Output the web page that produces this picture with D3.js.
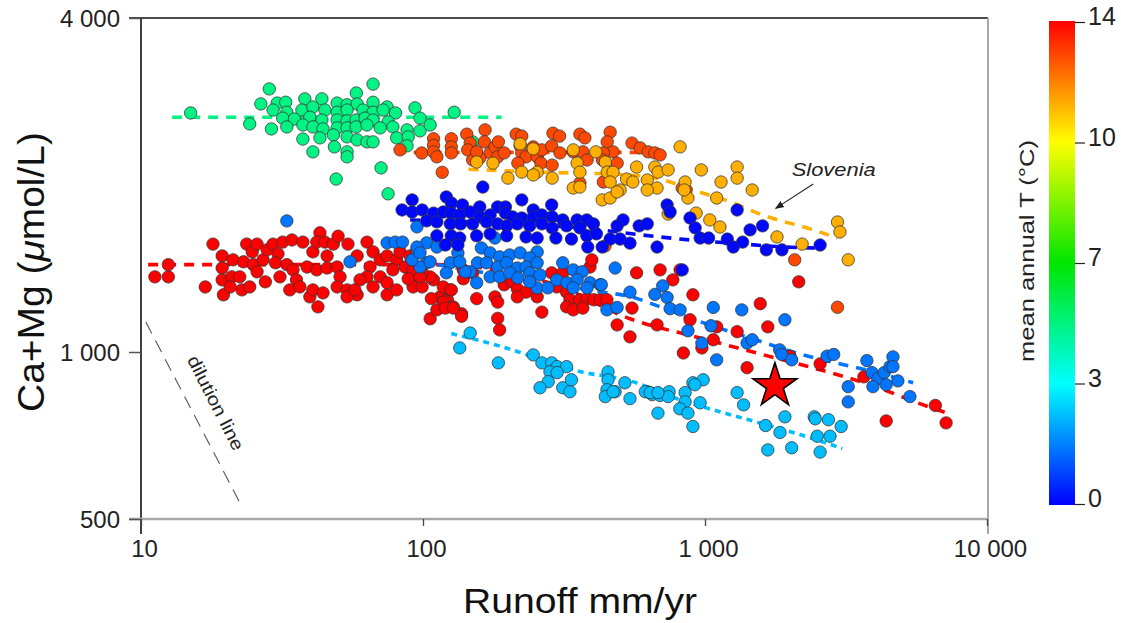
<!DOCTYPE html>
<html><head><meta charset="utf-8">
<script src="https://cdn.jsdelivr.net/npm/d3@7"></script>
<style>body{margin:0;background:#fff;} svg{display:block;font-family:"Liberation Sans",Arial,Helvetica,sans-serif;}</style>
</head><body><svg id="c" width="1121" height="623"></svg>
<script>
// ---------- axes / ticks ----------
const xTicks=[10,100,1000,10000];
const xTickLabels=["10","100","1 000","10 000"];
const yTicks=[500,1000,4000];
const yTickLabels=["500","1 000","4 000"];
const cbTicks=[0,3.5,7,10.5,14];
const cbTickLabels=["0","3","7","10","14"];
const cbStops=[0,3.5,7,10.5,14];
const cbColors=["#0000ff","#00ffff","#00e600","#ffff00","#ff0000"];

// ---------- mean annual T of each group ----------
const groupTemps={green:5.2,orange:13,yellow:11.6,red:14,midblue:1.6,darkblue:0.1,cyan:2.6};

// ---------- data: [runoff mm/yr, Ca+Mg µmol/L] ----------
const greenPts=[[66.5,3040],[58,2930],[28.5,2980],[26.6,2800],[30.4,2810],[32.6,2820],[38.1,2860],[43.8,2860],[49.6,2810],[53.8,2790],[58.4,2800],[66.5,2820],[74.6,2765],[93.7,2755],[29.4,2730],[32.9,2705],[37.2,2730],[40.7,2765],[44.9,2730],[49.6,2705],[53.8,2730],[61.3,2730],[66.5,2705],[72.2,2730],[79.9,2697],[129,2705],[15.0,2697],[31.8,2640],[35.0,2630],[39.7,2650],[43.8,2619],[49.6,2619],[53.8,2610],[57.9,2619],[62.3,2640],[66.5,2619],[75.2,2600],[97.6,2640],[24.3,2577],[29.0,2524],[32.9,2545],[37.5,2566],[40.7,2545],[44.2,2524],[49.6,2535],[53.8,2535],[57.9,2545],[63.3,2566],[70.5,2535],[78.2,2545],[87.8,2514],[97.6,2504],[106,2566],[37.5,2420],[43.1,2432],[48.1,2462],[53.8,2442],[58.4,2412],[63.3,2392],[66.5,2392],[80.6,2432],[88.6,2442],[40.7,2295],[48.5,2343],[53.8,2295],[53.8,2248],[87.8,2353],[71,2147],[49.2,2050],[75.2,1928],[150,2392]];

const orangePts=[[82.9,2314],[99,2284],[109,2423],[109,2357],[109,2295],[112,2248],[117,2108],[126,2423],[126,2343],[126,2285],[143,2470],[147,2380],[144,2314],[150,2219],[166,2514],[165,2392],[173,2285],[180,2343],[184,2248],[159,2238],[155,2295],[185,2392],[194,2285],[214,2470],[224,2450],[221,2353],[224,2285],[232,2248],[217,2190],[246,2343],[254,2248],[264,2314],[262,2190],[289,2480],[305,2450],[286,2353],[306,2285],[287,2172],[360,2470],[375,2432],[341,2295],[369,2295],[382,2219],[461,2490],[450,2392],[472,2295],[436,2285],[433,2219],[488,2190],[461,2100],[436,2025],[551,2380],[589,2333],[629,2295],[664,2285],[693,2266],[360,2017],[830,1975],[857,1959],[442,1552],[2080,1466],[2950,1204]];

const yellowPts=[[155,2200],[177,2190],[221,2372],[246,2324],[224,2110],[254,2110],[246,2085],[200,2058],[287,2058],[341,2314],[352,2190],[360,2110],[341,1975],[360,1983],[410,2295],[443,2200],[450,2110],[472,2110],[461,2025],[500,1959],[432,1880],[461,1895],[488,1943],[527,2050],[572,2155],[555,2025],[624,2042],[664,2155],[682,2110],[740,2129],[676,1975],[624,1959],[816,2343],[850,2025],[870,1895],[844,1959],[740,1773],[970,2129],[930,1780],[1040,1730],[1130,1680],[1100,1895],[1140,2025],[1300,2155],[1300,2058],[1470,1959],[1800,1612],[2210,1565],[2950,1715],[3010,1646],[3220,1466]];

const redPts=[[11.2,1366],[12.5,1366],[12.5,1437],[16.9,1310],[18.0,1565],[19.4,1490],[19.4,1417],[19.4,1349],[19.6,1268],[21.2,1466],[21.0,1366],[22.4,1366],[22.8,1294],[24.3,1310],[20.7,1310],[23.7,1565],[24.8,1515],[25.8,1565],[23.1,1454],[25.0,1437],[27.1,1466],[28.0,1528],[27.6,1338],[25.8,1395],[29.4,1565],[30.6,1503],[31.8,1578],[34.3,1592],[30.0,1448],[32.9,1437],[34.6,1406],[31.1,1366],[35.6,1349],[33.7,1294],[36.6,1310],[39.7,1257],[40.7,1294],[37.5,1578],[40.7,1515],[43.1,1640],[42.0,1578],[44.9,1578],[48.1,1565],[50.0,1617],[45.7,1490],[38.8,1423],[42.0,1406],[45.7,1417],[49.6,1423],[50.8,1366],[42.4,1206],[44.2,1278],[49.6,1310],[53.8,1294],[58.4,1268],[54.2,1565],[58.4,1490],[63.3,1578],[66.5,1515],[64.9,1423],[70.5,1466],[63.3,1366],[59.8,1349],[70.5,1366],[53.8,1257],[57.3,1294],[66.5,1310],[74.6,1268],[80.6,1294],[74.6,1333],[74.6,1490],[80.6,1466],[78.2,1406],[87.8,1423],[92.2,1366],[92.2,1310],[99.3,1310],[109,1349],[115,1257],[122,1242],[106,1148],[128,1206],[137,1172],[125,1294],[106,1366],[99.3,1389],[82.9,1515],[90.0,1490],[86.4,1423],[92.2,1406],[88.6,1355],[97.6,1366],[118,1310],[126,1294],[107,1248],[118,1230],[112,1191],[120,1200],[128,1200],[137,1160],[139,1406],[150,1389],[139,1355],[155,1248],[180,1257],[184,1230],[184,1150],[187,1096],[194,1322],[207,1338],[216,1300],[232,1282],[216,1257],[254,1257],[264,1180],[286,1389],[313,1389],[298,1310],[323,1282],[332,1242],[360,1242],[382,1248],[403,1242],[425,1242],[449,1242],[323,1206],[341,1191],[369,1200],[391,1423],[397,1466],[572,1389],[693,1406],[769,1349],[816,1406],[906,1268],[488,1119],[542,1065],[676,1119],[885,1143],[551,1200],[838,996],[975,1017],[1070,1052],[1100,1110],[1300,1088],[1570,1222],[1670,1110],[1410,937],[2150,1338],[2000,983],[2560,952],[3660,902],[4390,751],[6560,801],[7160,745]];

const midBluePts=[[32.9,1723],[55.1,1454],[74.6,1573],[79.6,1578],[84.6,1578],[95.2,1681],[95.2,1528],[103,1573],[103,1448],[97.6,1423],[95.2,1546],[112,1546],[91.5,1466],[106,1454],[97.6,1509],[125,1448],[133,1509],[132,1573],[121,1389],[155,1333],[156,1448],[147,1395],[161,1540],[173,1509],[187,1484],[203,1496],[221,1509],[254,1515],[239,1478],[168,1448],[184,1423],[198,1448],[216,1417],[232,1423],[254,1448],[173,1366],[187,1366],[203,1389],[217,1360],[239,1389],[260,1377],[254,1305],[277,1305],[239,1338],[313,1448],[341,1406],[367,1395],[298,1349],[324,1333],[352,1349],[391,1333],[425,1322],[341,1305],[382,1305],[180,1605],[141,1395],[135,1454],[480,1417],[429,1322],[542,1282],[449,1191],[488,1203],[664,1270],[708,1316],[734,1254],[752,1197],[816,1191],[870,1092],[1070,1203],[1050,1115],[975,1038],[1100,968],[1350,1191],[1410,1038],[1470,1052],[1920,1143],[1840,1009],[1870,990],[2030,968],[2710,983],[2860,990],[3220,866],[3220,813],[3750,965],[3910,918],[4100,895],[3940,866],[4390,873],[4320,918],[4530,941],[4640,980],[4640,941],[4830,887],[5330,831]];

const darkBluePts=[[91.5,1880],[121,1903],[126,1856],[138,1841],[159,1826],[184,1826],[196,1826],[224,1880],[246,1803],[286,1841],[163,1983],[84.3,1803],[91.5,1788],[99.3,1803],[109,1780],[118,1788],[126,1780],[135,1766],[147,1788],[159,1752],[173,1766],[196,1780],[208,1752],[224,1744],[246,1752],[264,1766],[287,1752],[313,1730],[352,1730],[381,1730],[103,1723],[112,1716],[125,1702],[136,1702],[150,1702],[168,1716],[184,1702],[198,1688],[216,1702],[239,1688],[264,1702],[287,1674],[323,1688],[360,1674],[402,1702],[512,1730],[112,1620],[126,1620],[135,1605],[155,1620],[173,1633],[198,1620],[232,1612],[254,1605],[296,1605],[336,1598],[381,1620],[412,1633],[120,1559],[133,1559],[384,1546],[432,1546],[461,1598],[500,1598],[542,1571],[584,1688],[624,1702],[676,1546],[488,1688],[734,1841],[752,1788],[885,1744],[923,1674],[961,1605],[1030,1605],[1300,1803],[1200,1598],[1260,1546],[1360,1578],[1445,1660],[1600,1688],[1650,1528],[1875,1528],[2560,1559],[830,1406]];

const cyanPts=[[147,1082],[135,1017],[185,956],[246,988],[264,956],[286,956],[299,941],[323,941],[282,921],[299,918],[278,884],[260,862],[313,862],[336,891],[332,848],[453,921],[453,891],[449,855],[480,848],[542,824],[520,880],[624,848],[650,838],[693,835],[746,848],[740,831],[681,776],[850,845],[850,813],[814,790],[870,776],[906,880],[985,891],[961,810],[906,734],[1300,845],[1370,803],[1640,737],[1845,716],[1670,666],[1920,764],[2030,672],[2440,764],[2460,758],[2740,755],[2500,705],[2775,705],[3040,734],[2560,660],[614,848],[639,845],[681,845],[921,873],[443,831],[472,848]];

// ---------- trend lines ----------
const greenTrend=[[12.9,2650],[190,2650]];
const orangeTrend=[[80,2290],[690,2290]];
const yellowTrend=[[145,2135],[260,2110],[542,2085],[710,2042],[906,1959],[1230,1864],[1640,1758],[2360,1667],[2950,1605]];
const darkBlueTrend=[[90,1730],[425,1660],[589,1627],[885,1592],[1230,1572],[1930,1546],[2460,1540]];
const midBlueTrend=[[97.6,1454],[425,1284],[542,1259],[693,1206],[961,1134],[1445,1060],[2170,992],[2775,961],[3850,925],[5470,880]];
const redTrend=[[10.6,1437],[109,1437],[294,1322],[542,1148],[961,1060],[1570,992],[2775,918],[3850,873],[5780,807],[7160,777]];
const cyanTrend=[[126,1080],[187,1025],[360,922],[542,887],[816,820],[1230,771],[1640,740],[2170,710],[3070,670]];
const dilutionLine=[[10.4,1133],[22.8,526]];
const starSite=[1770,869];

// ---------- drawing ----------
const svg=d3.select("#c");
const x=d3.scaleLog().domain([10,10000]).range([141,987]);
const y=d3.scaleLog().domain([500,4000]).range([519,18]);
const color=d3.scaleLinear().domain(cbStops).range(cbColors);

// frame
const L=141,R=988,T=18,B=519;
svg.append("line").attr("x1",L).attr("x2",L).attr("y1",T).attr("y2",534).attr("stroke","#111").attr("stroke-width",1.6);
svg.append("line").attr("x1",129).attr("x2",R).attr("y1",T).attr("y2",T).attr("stroke","#111").attr("stroke-width",1.6);
svg.append("line").attr("x1",129).attr("x2",R+1).attr("y1",B).attr("y2",B).attr("stroke","#a8a8a8").attr("stroke-width",2.4);
svg.append("line").attr("x1",R).attr("x2",R).attr("y1",T).attr("y2",534).attr("stroke","#a8a8a8").attr("stroke-width",2);

// y axis
const yAx=svg.append("g").attr("transform",`translate(${L},0)`)
  .call(d3.axisLeft(y).tickValues(yTicks).tickSize(12).tickPadding(9).tickFormat((d,i)=>yTickLabels[i]));
yAx.select(".domain").remove();
yAx.selectAll(".tick line").attr("stroke","#555").attr("stroke-width",1.5);
yAx.selectAll(".tick text").attr("font-size",24).attr("fill","#222").attr("font-family","Liberation Sans, Arial, sans-serif").attr("dy","0.36em");

// x axis
const xAx=svg.append("g").attr("transform",`translate(0,${B})`)
  .call(d3.axisBottom(x).tickValues(xTicks).tickSize(7).tickPadding(14).tickFormat((d,i)=>xTickLabels[i]));
xAx.select(".domain").remove();
xAx.selectAll(".tick line").attr("stroke","#444").attr("stroke-width",1.3);
xAx.selectAll(".tick text").attr("font-size",24).attr("fill","#222").attr("x",3).attr("font-family","Liberation Sans, Arial, sans-serif");

// titles
svg.append("text").attr("x",580).attr("y",613).attr("text-anchor","middle").attr("font-size",35)
  .attr("textLength",234).attr("lengthAdjust","spacingAndGlyphs").attr("fill","#111").text("Runoff mm/yr");
const yt=svg.append("text").attr("transform","translate(44,272) rotate(-90)").attr("text-anchor","middle")
  .attr("font-size",36).attr("fill","#111").attr("textLength",280).attr("lengthAdjust","spacingAndGlyphs");
yt.append("tspan").text("Ca+Mg (");
yt.append("tspan").attr("font-style","italic").text("\u03bc");
yt.append("tspan").text("mol/L)");

// dilution line
svg.append("path").attr("d",d3.line().x(d=>x(d[0])).y(d=>y(d[1]))(dilutionLine))
  .attr("fill","none").attr("stroke","#555").attr("stroke-width",1.1).attr("stroke-dasharray","13,8");
svg.append("text").attr("transform",`translate(${x(17.6)},${y(800)}) rotate(63)`).attr("text-anchor","middle")
  .attr("font-size",18).attr("fill","#222").attr("textLength",104).attr("lengthAdjust","spacingAndGlyphs").text("dilution line");

// trend lines
const tl=d3.line().x(d=>x(d[0])).y(d=>y(d[1])).curve(d3.curveMonotoneX);
const trends=[[greenTrend,"green","10,8"],[orangeTrend,"orange","10,8"],[yellowTrend,"yellow","10,8"],
  [redTrend,"red","10,8"],[midBlueTrend,"midblue","10,8"],[darkBlueTrend,"darkblue","10,8"],[cyanTrend,"cyan","6,5"]];
trends.forEach(([pts,g,da])=>{
  svg.append("path").attr("d",tl(pts)).attr("fill","none").attr("stroke",color(groupTemps[g]))
    .attr("stroke-width",3.6).attr("stroke-dasharray",da);
});

// points
const groups=[[greenPts,"green"],[orangePts,"orange"],[yellowPts,"yellow"],[redPts,"red"],[cyanPts,"cyan"],[midBluePts,"midblue"],[darkBluePts,"darkblue"]];
groups.forEach(([pts,g])=>{
  svg.append("g").selectAll("circle").data(pts).join("circle")
    .attr("cx",d=>x(d[0])).attr("cy",d=>y(d[1])).attr("r",6.2)
    .attr("fill",color(groupTemps[g])).attr("stroke","#333").attr("stroke-opacity",0.85).attr("stroke-width",0.9);
});

// star
svg.append("path").attr("d",d3.symbol(d3.symbolStar,600)()).attr("transform",`translate(${x(starSite[0])},${y(starSite[1])})`)
  .attr("fill","#ff0000").attr("stroke","#000").attr("stroke-width",1.6);

// Slovenia annotation
svg.append("text").attr("x",x(2030)).attr("y",y(2076)).attr("font-size",19).attr("font-style","italic").attr("fill","#222")
  .attr("textLength",84).attr("lengthAdjust","spacingAndGlyphs").text("Slovenia");
const defs=svg.append("defs");
defs.append("marker").attr("id","ah").attr("viewBox","0 0 10 10").attr("refX",9).attr("refY",5)
  .attr("markerWidth",9).attr("markerHeight",9).attr("orient","auto").attr("markerUnits","userSpaceOnUse")
  .append("path").attr("d","M0,1 L10,5 L0,9 Z").attr("fill","#222");
svg.append("line").attr("x1",x(2420)).attr("y1",y(2009)).attr("x2",x(1780)).attr("y2",y(1815))
  .attr("stroke","#222").attr("stroke-width",1.1).attr("marker-end","url(#ah)");

// colorbar
const cb=d3.scaleLinear().domain([0,14]).range([504,22]);
const grad=defs.append("linearGradient").attr("id","cbg").attr("x1",0).attr("x2",0).attr("y1",1).attr("y2",0);
cbStops.forEach((s,i)=>grad.append("stop").attr("offset",s/14).attr("stop-color",cbColors[i]));
svg.append("rect").attr("x",1049).attr("y",21).attr("width",26).attr("height",484).attr("fill","url(#cbg)");
const cbAx=svg.append("g").attr("transform","translate(1075,0)")
  .call(d3.axisRight(cb).tickValues(cbTicks).tickSize(10).tickPadding(3).tickFormat((d,i)=>cbTickLabels[i]));
cbAx.select(".domain").remove();
cbAx.selectAll(".tick line").attr("stroke","#222").attr("stroke-width",1.2);
cbAx.selectAll(".tick text").attr("font-size",25).attr("fill","#222").attr("dy","0.1em").attr("font-family","Liberation Sans, Arial, sans-serif");
svg.append("text").attr("transform","translate(1034,251) rotate(-90)").attr("text-anchor","middle")
  .attr("font-size",21).attr("fill","#222").attr("textLength",222).attr("lengthAdjust","spacingAndGlyphs").text("mean annual T (\u00b0C)");
</script></body></html>
